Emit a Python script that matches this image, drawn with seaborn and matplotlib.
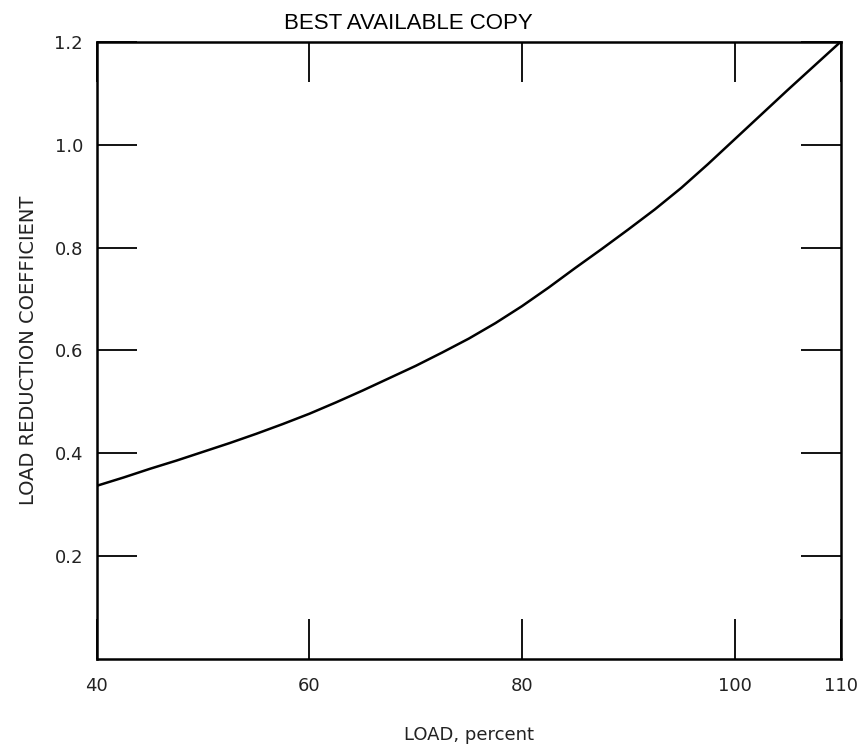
import pandas as pd
import seaborn as sns
import matplotlib
matplotlib.use("Agg")
import matplotlib.pyplot as plt

# Valores (a cada 2,5 %)
load_pct = [40, 42.5, 45, 47.5, 50, 52.5, 55, 57.5, 60, 62.5, 65, 67.5, 70,
            72.5, 75, 77.5, 80, 82.5, 85, 87.5, 90, 92.5, 95, 97.5, 100,
            102.5, 105, 107.5, 110]
coef = [0.337, 0.353, 0.370, 0.386, 0.403, 0.420, 0.438, 0.457, 0.477,
        0.499, 0.522, 0.546, 0.570, 0.596, 0.623, 0.653, 0.686, 0.722,
        0.760, 0.797, 0.835, 0.874, 0.916, 0.962, 1.010, 1.058, 1.106,
        1.153, 1.200]

x_ticks = [40, 60, 80, 100, 110]
x_labels = ['40', '60', '80', '100', '110']
y_ticks = [0.2, 0.4, 0.6, 0.8, 1.0, 1.2]
y_labels = ['0.2', '0.4', '0.6', '0.8', '1.0', '1.2']

df = pd.DataFrame({'load': load_pct, 'coef': coef})

sns.set_style("white")
plt.rcParams['font.family'] = ['DejaVu Sans']

fig = plt.figure(figsize=(8.65, 7.44), dpi=100)
ax = fig.add_axes([0.112, 0.114, 0.860, 0.830])

sns.lineplot(data=df, x='load', y='coef', color='black', linewidth=1.8, ax=ax)

ax.set_xlim(40, 110)
ax.set_ylim(0, 1.2)
ax.set_xticks(x_ticks)
ax.set_xticklabels(x_labels)
ax.set_yticks(y_ticks)
ax.set_yticklabels(y_labels)

# ticks para dentro nos quatro lados
ax.tick_params(direction='in', length=29, width=1.3, color='black',
               bottom=True, left=True, top=True, right=True,
               labelsize=13, labelcolor='#222222')
ax.tick_params(axis='x', pad=13)
ax.tick_params(axis='y', pad=10)

for s in ax.spines.values():
    s.set_color('black')
    s.set_linewidth(1.8)

ax.set_xlabel('LOAD, percent', fontsize=13, labelpad=22, color='#222222')
ax.set_ylabel('LOAD REDUCTION COEFFICIENT', fontsize=14, labelpad=12, color='#222222')

fig.text(0.472, 0.968, 'BEST AVAILABLE COPY', ha='center', va='center',
         fontsize=16, family='Liberation Sans', color='black')

plt.savefig('out.png', dpi=100)
plt.close()
